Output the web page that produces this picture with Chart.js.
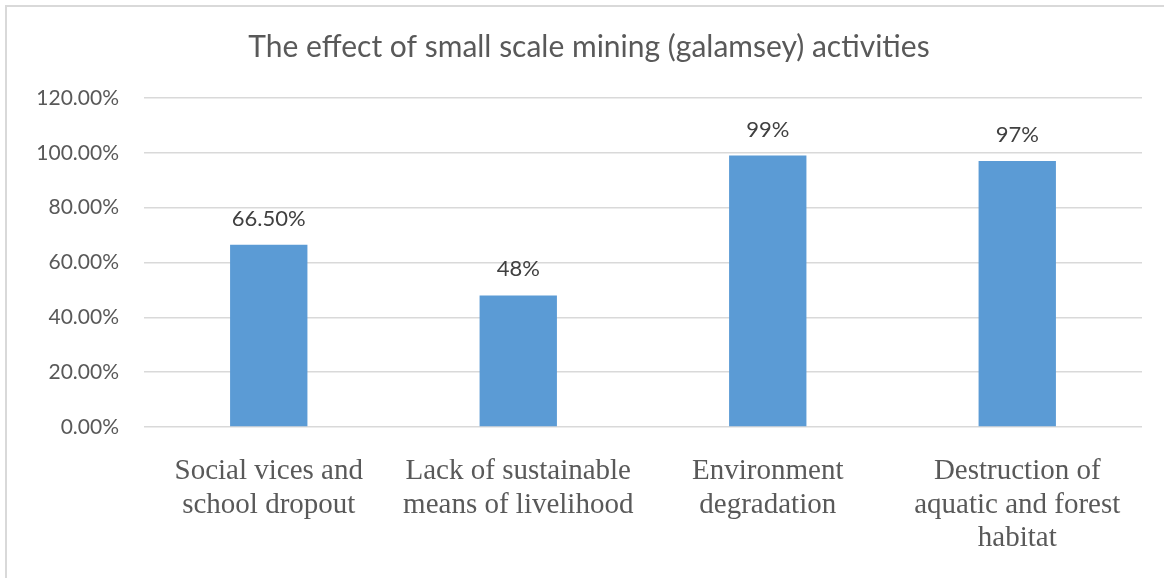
<!DOCTYPE html>
<html>
<head>
<meta charset="utf-8">
<script src="https://cdn.jsdelivr.net/npm/chart.js@4/dist/chart.umd.min.js"></script>
<style>
  html, body { margin: 0; padding: 0; background: #fff; }
  #wrap { position: relative; width: 1164px; height: 578px; overflow: hidden; }
  #frame { position: absolute; left: 5px; top: 5px; width: 1200px; height: 620px; border: 2px solid #d9d9d9; }
  #chart { position: absolute; left: 0; top: 0; }
</style>
</head>
<body>
<div id="wrap">
  <div id="frame"></div>
  <canvas id="chart" width="1164" height="578"></canvas>
</div>
<script>
const TITLE = "The effect of small scale mining (galamsey) activities";
const categories = [
  ["Social vices and", "school dropout"],
  ["Lack of sustainable", "means of livelihood"],
  ["Environment", "degradation"],
  ["Destruction of", "aquatic and forest", "habitat"]
];
const values = [66.5, 48, 99, 97];
const valueLabels = ["66.50%", "48%", "99%", "97%"];
const yTicks = { min: 0, max: 120, step: 20 };

const barColor = "#5B9BD5";
const gridColor = "#D9D9D9";

// title sits a bit right of the canvas centre in the original, so draw it by hand
const chartTitle = {
  id: "chartTitle",
  afterDraw(chart) {
    const ctx = chart.ctx;
    ctx.save();
    ctx.font = "30px Lato";
    ctx.fillStyle = "#595959";
    ctx.textAlign = "center";
    ctx.textBaseline = "alphabetic";
    ctx.fillText(TITLE, 589, 57);
    ctx.restore();
  }
};

// value labels above the bars, Excel style
const barLabels = {
  id: "barLabels",
  afterDatasetsDraw(chart) {
    const ctx = chart.ctx;
    const meta = chart.getDatasetMeta(0);
    ctx.save();
    ctx.font = "22px Lato";
    ctx.fillStyle = "#404040";
    ctx.textAlign = "center";
    ctx.textBaseline = "alphabetic";
    meta.data.forEach((bar, i) => {
      ctx.fillText(valueLabels[i], bar.x, bar.y - 19);
    });
    ctx.restore();
  }
};

new Chart(document.getElementById("chart"), {
  type: "bar",
  data: {
    labels: categories,
    datasets: [{
      data: values,
      backgroundColor: barColor,
      barPercentage: 0.31,
      categoryPercentage: 1
    }]
  },
  options: {
    responsive: false,
    animation: false,
    layout: { padding: { left: 0, right: 22, top: 98, bottom: 0 } },
    plugins: {
      legend: { display: false },
      tooltip: { enabled: false },
      title: { display: false }
    },
    scales: {
      x: {
        grid: { display: false, drawTicks: false },
        border: { display: false },
        ticks: {
          color: "#595959",
          font: { family: "Liberation Serif", size: 29, lineHeight: 1.15 },
          padding: 28,
          maxRotation: 0,
          autoSkip: false
        },
        afterFit: (scale) => { scale.height = 151; }
      },
      y: {
        min: yTicks.min,
        max: yTicks.max,
        grid: { color: gridColor, lineWidth: 1.5, drawTicks: false },
        border: { display: false },
        ticks: {
          stepSize: yTicks.step,
          color: "#595959",
          font: { family: "Lato", size: 21 },
          padding: 25,
          callback: (v) => v.toFixed(2) + "%"
        },
        afterFit: (scale) => { scale.width = 144; }
      }
    }
  },
  plugins: [chartTitle, barLabels]
});
</script>
</body>
</html>
